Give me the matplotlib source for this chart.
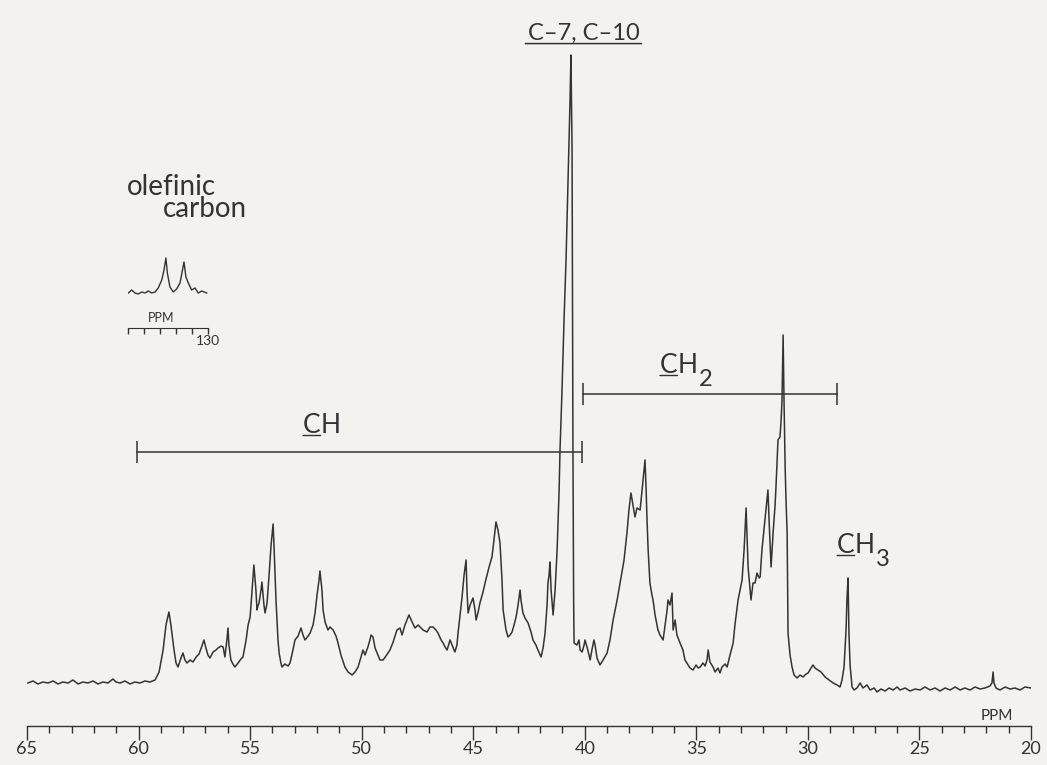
import numpy as np
import matplotlib.pyplot as plt
from matplotlib.ticker import MultipleLocator

plt.rcParams['font.family'] = ['Lato', 'DejaVu Sans']
plt.rcParams['mathtext.fontset'] = 'custom'
plt.rcParams['mathtext.rm'] = 'Lato'

INK = '#333333'
PAPER = '#f3f2ef'

# 13C trace, (ppm, intensity), left to right
trace_65_55 = [
    (64.96, 7), (64.73, 9), (64.51, 6), (64.28, 8), (64.06, 7), (63.83, 9), (63.61, 6),
    (63.39, 8), (63.16, 7), (62.94, 10), (62.71, 6), (62.49, 8), (62.27, 7), (62.04, 9),
    (61.82, 6), (61.59, 8), (61.37, 7), (61.15, 11), (61.01, 8), (60.83, 7), (60.61, 9),
    (60.38, 6), (60.16, 8), (59.94, 7), (59.71, 9), (59.49, 8), (59.26, 10), (59.08, 18),
    (58.90, 40), (58.77, 65), (58.64, 78), (58.55, 65), (58.41, 40), (58.32, 27), (58.23, 23),
    (58.10, 32), (58.01, 37), (57.92, 30), (57.83, 27), (57.69, 30), (57.56, 28), (57.42, 33),
    (57.29, 36), (57.16, 44), (57.07, 50), (56.98, 42), (56.89, 35), (56.80, 32), (56.66, 38),
    (56.53, 40), (56.44, 42), (56.30, 44), (56.21, 43), (56.13, 33), (56.04, 50), (55.99, 62),
    (55.95, 45), (55.86, 30), (55.77, 26), (55.68, 23), (55.54, 27), (55.41, 31), (55.32, 33),
    (55.18, 50), (55.09, 65), (55.00, 73),
]
trace_55_40 = [
    (54.91, 100), (54.83, 125), (54.74, 100), (54.69, 80), (54.65, 84), (54.60, 87),
    (54.51, 100), (54.47, 108), (54.38, 85), (54.33, 77), (54.24, 87), (54.15, 115),
    (54.06, 145), (53.97, 166), (53.93, 145), (53.84, 90), (53.75, 50), (53.70, 37),
    (53.62, 27), (53.57, 23), (53.44, 26), (53.30, 24), (53.21, 27), (53.08, 40), (52.99, 50),
    (52.85, 54), (52.72, 62), (52.63, 55), (52.54, 50), (52.40, 54), (52.31, 57), (52.18, 65),
    (52.09, 77), (52.00, 95), (51.91, 110), (51.87, 119), (51.78, 100), (51.73, 80),
    (51.64, 68), (51.51, 60), (51.42, 63), (51.28, 60), (51.15, 54), (51.06, 47), (50.93, 35),
    (50.75, 23), (50.61, 18), (50.43, 15), (50.30, 18), (50.16, 23), (50.07, 30), (49.94, 40),
    (49.85, 35), (49.72, 43), (49.63, 50), (49.58, 55), (49.49, 53), (49.40, 42), (49.31, 37),
    (49.18, 30), (49.04, 30), (48.91, 34), (48.73, 40), (48.59, 48), (48.42, 60), (48.28, 62),
    (48.19, 55), (48.06, 65), (47.88, 75), (47.74, 68), (47.61, 62), (47.47, 65), (47.38, 63),
    (47.25, 60), (47.07, 58), (46.94, 63), (46.80, 63), (46.67, 60), (46.58, 57), (46.44, 50),
    (46.35, 47), (46.26, 43), (46.17, 40), (46.04, 50), (45.95, 45), (45.82, 38), (45.73, 45),
    (45.68, 57), (45.59, 75), (45.50, 93), (45.41, 115), (45.32, 130), (45.28, 100),
    (45.23, 77), (45.14, 85), (45.05, 90), (45.01, 92), (44.92, 80), (44.87, 70), (44.78, 78),
    (44.70, 87), (44.56, 98), (44.47, 107), (44.38, 115), (44.29, 123), (44.20, 130),
    (44.16, 133), (44.07, 150), (43.98, 168), (43.89, 160), (43.80, 147), (43.71, 110),
    (43.66, 80), (43.53, 60), (43.44, 53), (43.35, 55), (43.26, 58), (43.17, 65), (43.08, 73),
    (42.99, 85), (42.90, 100), (42.86, 90), (42.77, 77), (42.68, 72), (42.54, 67), (42.41, 58),
    (42.32, 50), (42.19, 45), (42.10, 40), (41.96, 33), (41.87, 42), (41.78, 57), (41.69, 85),
    (41.65, 107), (41.60, 115), (41.56, 128), (41.51, 100), (41.42, 75), (41.33, 100),
    (41.24, 140), (41.15, 200), (41.11, 240), (41.02, 300), (40.93, 370), (40.84, 430),
    (40.75, 510), (40.66, 590), (40.62, 635),
]
trace_40_28 = [
    (40.57, 540), (40.55, 390), (40.53, 240), (40.50, 90), (40.48, 47), (40.35, 45),
    (40.26, 50), (40.21, 40), (40.12, 38), (40.03, 45), (39.99, 50), (39.90, 43), (39.81, 35),
    (39.76, 30), (39.68, 40), (39.59, 50), (39.54, 45), (39.45, 32), (39.32, 25), (39.18, 30),
    (39.00, 37), (38.87, 50), (38.73, 70), (38.55, 90), (38.42, 107), (38.24, 130),
    (38.11, 157), (38.02, 180), (37.93, 197), (37.84, 185), (37.75, 173), (37.66, 182),
    (37.52, 180), (37.43, 200), (37.34, 220), (37.30, 230), (37.25, 200), (37.21, 170),
    (37.16, 140), (37.08, 107), (36.99, 95), (36.94, 90), (36.85, 75), (36.72, 60), (36.63, 55),
    (36.49, 50), (36.40, 65), (36.31, 80), (36.27, 90), (36.18, 85), (36.09, 97), (36.04, 60),
    (35.95, 70), (35.87, 55), (35.73, 47), (35.60, 40), (35.51, 30), (35.37, 25), (35.28, 22),
    (35.15, 20), (35.01, 25), (34.92, 22), (34.83, 23), (34.70, 27), (34.61, 24), (34.52, 30),
    (34.47, 40), (34.39, 28), (34.25, 23), (34.16, 18), (34.03, 22), (33.94, 17), (33.85, 23),
    (33.71, 26), (33.62, 23), (33.49, 35), (33.35, 47), (33.27, 65), (33.13, 90), (33.04, 100),
    (32.95, 110), (32.86, 140), (32.77, 182), (32.68, 123), (32.59, 100), (32.55, 90),
    (32.46, 107), (32.37, 107), (32.28, 117), (32.19, 112), (32.14, 113), (32.06, 140),
    (31.97, 160), (31.88, 180), (31.79, 200), (31.74, 170), (31.65, 123), (31.56, 157),
    (31.47, 185), (31.43, 203), (31.34, 250), (31.25, 253), (31.20, 270), (31.16, 290),
    (31.11, 355), (31.07, 290), (31.02, 223), (30.98, 190), (30.93, 157), (30.89, 57),
    (30.80, 35), (30.71, 23), (30.62, 15), (30.49, 12), (30.35, 15), (30.22, 13), (30.08, 16),
    (29.99, 17), (29.86, 22), (29.77, 25), (29.68, 22), (29.55, 20), (29.41, 18), (29.23, 13),
    (29.05, 10), (28.87, 7), (28.69, 5), (28.56, 3), (28.47, 10), (28.38, 23), (28.29, 60),
    (28.25, 90), (28.20, 112), (28.16, 57), (28.11, 25), (28.02, 3),
]
trace_28_20 = [
    (27.93, 0), (27.80, 2), (27.66, 7), (27.53, 2), (27.35, 5), (27.21, 0), (27.03, 2),
    (26.90, -2), (26.72, 1), (26.54, -1), (26.36, 2), (26.18, 0), (26.00, 3), (25.87, 0),
    (25.64, 2), (25.42, -1), (25.19, 1), (24.97, 0), (24.75, 3), (24.52, 0), (24.30, 2),
    (24.08, -1), (23.85, 2), (23.63, 0), (23.40, 3), (23.18, 0), (22.96, 2), (22.73, 0),
    (22.51, 3), (22.28, 1), (22.06, 2), (21.84, 4), (21.75, 7), (21.70, 18), (21.66, 7),
    (21.57, 2), (21.39, 0), (21.16, 3), (20.94, 1), (20.71, 2), (20.49, 0), (20.27, 3),
    (20.00, 2),
]

# olefinic region, plotted separately in the small inset
olefinic_trace = [
    (134.98, 0), (134.77, 3), (134.56, 0), (134.36, -1), (134.14, 1), (133.94, 0),
    (133.73, 2), (133.52, 0), (133.31, 1), (133.11, 5), (132.89, 13), (132.75, 23),
    (132.63, 35), (132.54, 20), (132.38, 6), (132.17, 1), (131.96, 4), (131.75, 10),
    (131.63, 20), (131.50, 31), (131.38, 16), (131.23, 10), (131.02, 3), (130.81, 5),
    (130.61, 0), (130.39, 2), (130.08, 0),
]

# assignment ranges (ppm from, ppm to, bar height)
ch_range = (60.07, 40.12, 238)
ch2_range = (40.08, 28.69, 296)

major_ticks = [65, 60, 55, 50, 45, 40, 35, 30, 25, 20]
inset_ticks = [135, 134, 133, 132, 131, 130]
inset_labels = ['', '', '', '', '', '130']

W, H = 1047, 765
fig = plt.figure(figsize=(W / 100, H / 100), dpi=100, facecolor=PAPER)

ax = fig.add_axes([27 / W, 39 / H, 1004 / W, 726 / H])
ax.patch.set_visible(False)
shift, inten = np.array(trace_65_55 + trace_55_40 + trace_40_28 + trace_28_20).T
ax.plot(shift, inten, color=INK, lw=1.1, solid_joinstyle='round')
ax.set_xlim(65, 20)
ax.set_ylim(-36, 690)

for s in ['left', 'right', 'top']:
    ax.spines[s].set_visible(False)
ax.spines['bottom'].set_color(INK)
ax.spines['bottom'].set_linewidth(1.0)
ax.set_yticks([])
ax.set_xticks(major_ticks)
ax.set_xticklabels([str(t) for t in major_ticks])
ax.xaxis.set_minor_locator(MultipleLocator(1))
ax.tick_params(axis='x', which='major', direction='out', length=10, width=1,
               color=INK, labelcolor=INK, labelsize=13, pad=1)
ax.tick_params(axis='x', which='minor', direction='out', length=5, width=1, color=INK)
ax.text(21.52, -26, 'PPM', fontsize=11, color=INK, ha='center', va='center')

# range bars with end stops
for x0, x1, y in [ch_range, ch2_range]:
    ax.plot([x0, x1], [y, y], color=INK, lw=1.1)
    ax.plot([x0, x1], [y, y], '|', color=INK, ms=16, mew=1.1)


def group_label(x, y, sub=None, size=19):
    c = ax.text(x, y, 'C', fontsize=size, color=INK, ha='left', va='baseline')
    ax.annotate('', xy=(0, 0.1), xycoords=c, xytext=(1, 0.1), textcoords=c,
                arrowprops=dict(arrowstyle='-', color=INK, lw=1.0, shrinkA=0, shrinkB=0))
    h = ax.annotate('H', xy=(1, 0), xycoords=c, ha='left', va='bottom',
                    fontsize=size, color=INK)
    if sub:
        ax.annotate(sub, xy=(1, 0), xycoords=h, xytext=(1, -9),
                    textcoords='offset points', ha='left', va='bottom',
                    fontsize=size * 0.9, color=INK)


group_label(52.63, 257)
group_label(36.63, 317, '2')
group_label(28.69, 137, '3')

t = ax.text(40.06, 650, 'C–7, C–10', fontsize=17, color=INK, ha='center', va='baseline')
ax.annotate('', xy=(-0.02, 0.02), xycoords=t, xytext=(1.02, 0.02), textcoords=t,
            arrowprops=dict(arrowstyle='-', color=INK, lw=1.1, shrinkA=0, shrinkB=0))

ax.text(60.52, 495, 'olefinic', fontsize=20, color=INK, ha='left', va='baseline')
ax.text(58.90, 473, 'carbon', fontsize=20, color=INK, ha='left', va='baseline')

# inset: olefinic carbons
axi = fig.add_axes([128 / W, (H - 328) / H, 80 / W, 78 / H])
axi.patch.set_visible(False)
oshift, ointen = np.array(olefinic_trace).T
axi.plot(oshift, ointen, color=INK, lw=1.0)
axi.set_xlim(135, 130)
axi.set_ylim(-35, 43)
for s in ['left', 'right', 'top']:
    axi.spines[s].set_visible(False)
axi.spines['bottom'].set_color(INK)
axi.set_yticks([])
axi.set_xticks(inset_ticks)
axi.set_xticklabels(inset_labels)
axi.tick_params(axis='x', direction='out', length=4, width=1, color=INK,
                labelcolor=INK, labelsize=10, pad=1)
axi.text(132.9, -25, 'PPM', fontsize=9, color=INK, ha='center', va='center')

fig.savefig('out.png', dpi=100, facecolor=PAPER)
